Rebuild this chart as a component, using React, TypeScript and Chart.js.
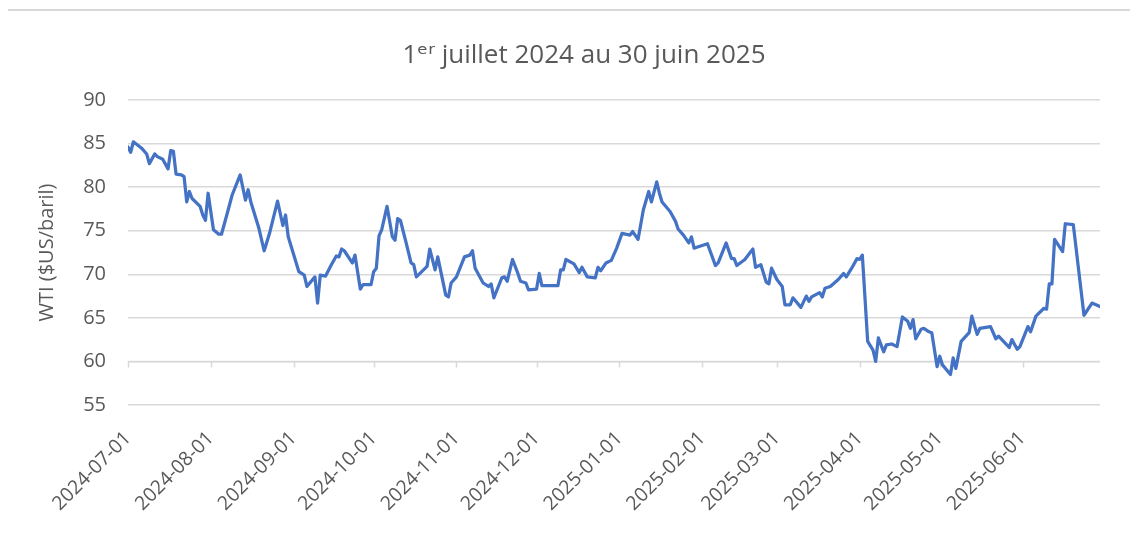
import { useEffect, useRef } from 'react';
import { Chart, registerables } from 'chart.js';

Chart.register(...registerables);

// ---- Data -----------------------------------------------------------
const startDate = '2024-07-01';
const endDate = '2025-06-30';

const dates: string[] = [
  '2024-07-01', '2024-07-02', '2024-07-03', '2024-07-06', '2024-07-08', '2024-07-09', '2024-07-11', '2024-07-12',
  '2024-07-14', '2024-07-16', '2024-07-17', '2024-07-18', '2024-07-19', '2024-07-21', '2024-07-22', '2024-07-23',
  '2024-07-24', '2024-07-25', '2024-07-28', '2024-07-29', '2024-07-30', '2024-07-31', '2024-08-02', '2024-08-04',
  '2024-08-05', '2024-08-07', '2024-08-09', '2024-08-12', '2024-08-14', '2024-08-15', '2024-08-16', '2024-08-19',
  '2024-08-21', '2024-08-23', '2024-08-26', '2024-08-28', '2024-08-29', '2024-08-30', '2024-09-03', '2024-09-05',
  '2024-09-06', '2024-09-09', '2024-09-10', '2024-09-11', '2024-09-13', '2024-09-15', '2024-09-17', '2024-09-18',
  '2024-09-19', '2024-09-20', '2024-09-23', '2024-09-24', '2024-09-26', '2024-09-27', '2024-09-30', '2024-10-01',
  '2024-10-02', '2024-10-03', '2024-10-04', '2024-10-06', '2024-10-08', '2024-10-09', '2024-10-10', '2024-10-11',
  '2024-10-13', '2024-10-15', '2024-10-16', '2024-10-17', '2024-10-21', '2024-10-22', '2024-10-24', '2024-10-25',
  '2024-10-28', '2024-10-29', '2024-10-30', '2024-11-01', '2024-11-04', '2024-11-06', '2024-11-07', '2024-11-08',
  '2024-11-11', '2024-11-13', '2024-11-14', '2024-11-15', '2024-11-18', '2024-11-19', '2024-11-20', '2024-11-22',
  '2024-11-24', '2024-11-25', '2024-11-27', '2024-11-28', '2024-12-01', '2024-12-02', '2024-12-03', '2024-12-09',
  '2024-12-10', '2024-12-11', '2024-12-12', '2024-12-15', '2024-12-17', '2024-12-18', '2024-12-20', '2024-12-23',
  '2024-12-24', '2024-12-25', '2024-12-27', '2024-12-29', '2024-12-31', '2025-01-02', '2025-01-05', '2025-01-06',
  '2025-01-08', '2025-01-10', '2025-01-12', '2025-01-13', '2025-01-15', '2025-01-16', '2025-01-17', '2025-01-20',
  '2025-01-22', '2025-01-23', '2025-01-25', '2025-01-27', '2025-01-28', '2025-01-29', '2025-01-30', '2025-02-03',
  '2025-02-06', '2025-02-07', '2025-02-10', '2025-02-12', '2025-02-13', '2025-02-14', '2025-02-17', '2025-02-20',
  '2025-02-21', '2025-02-23', '2025-02-25', '2025-02-26', '2025-02-27', '2025-03-01', '2025-03-03', '2025-03-04',
  '2025-03-06', '2025-03-07', '2025-03-10', '2025-03-12', '2025-03-13', '2025-03-14', '2025-03-17', '2025-03-18',
  '2025-03-19', '2025-03-21', '2025-03-24', '2025-03-26', '2025-03-27', '2025-03-29', '2025-03-31', '2025-04-01',
  '2025-04-02', '2025-04-04', '2025-04-06', '2025-04-07', '2025-04-08', '2025-04-10', '2025-04-11', '2025-04-13',
  '2025-04-15', '2025-04-17', '2025-04-19', '2025-04-20', '2025-04-21', '2025-04-22', '2025-04-24', '2025-04-25',
  '2025-04-27', '2025-04-28', '2025-04-30', '2025-05-01', '2025-05-02', '2025-05-05', '2025-05-06', '2025-05-07',
  '2025-05-09', '2025-05-12', '2025-05-13', '2025-05-15', '2025-05-16', '2025-05-20', '2025-05-22', '2025-05-23',
  '2025-05-27', '2025-05-28', '2025-05-30', '2025-05-31', '2025-06-03', '2025-06-04', '2025-06-06', '2025-06-09',
  '2025-06-10', '2025-06-11', '2025-06-12', '2025-06-13', '2025-06-16', '2025-06-17', '2025-06-20', '2025-06-22',
  '2025-06-24', '2025-06-27', '2025-06-30',
];

const wti: number[] = [
  84.6, 84.0, 85.2, 84.5, 83.8, 82.7, 83.8, 83.5,
  83.2, 82.1, 84.2, 84.1, 81.5, 81.4, 81.2, 78.3,
  79.5, 78.7, 77.8, 76.8, 76.2, 79.3, 75.1, 74.6,
  74.6, 76.8, 79.1, 81.4, 78.5, 79.7, 78.3, 75.3,
  72.7, 74.7, 78.4, 75.6, 76.8, 74.3, 70.3, 69.9,
  68.6, 69.7, 66.7, 69.9, 69.8, 71.0, 72.1, 72.0,
  72.9, 72.7, 71.3, 72.2, 68.3, 68.8, 68.8, 70.3,
  70.7, 74.4, 75.1, 77.8, 74.3, 73.9, 76.4, 76.2,
  73.8, 71.3, 71.1, 69.7, 70.9, 72.9, 70.5, 72.0,
  67.6, 67.4, 69.0, 69.7, 72.0, 72.2, 72.7, 70.7,
  69.0, 68.6, 68.9, 67.3, 69.6, 69.7, 69.2, 71.7,
  70.1, 69.2, 69.0, 68.2, 68.3, 70.1, 68.7, 68.7,
  70.5, 70.5, 71.7, 71.2, 70.2, 70.8, 69.7, 69.6,
  70.8, 70.4, 71.3, 71.6, 73.0, 74.7, 74.5, 74.9,
  74.0, 77.4, 79.5, 78.3, 80.6, 79.3, 78.3, 77.2,
  76.1, 75.2, 74.5, 73.6, 74.3, 73.0, 73.1, 73.5,
  71.0, 71.3, 73.6, 71.8, 71.8, 71.0, 71.7, 72.9,
  70.8, 71.1, 69.1, 68.9, 70.7, 69.4, 68.6, 66.5,
  66.5, 67.3, 66.2, 67.5, 66.9, 67.4, 67.9, 67.4,
  68.4, 68.6, 69.4, 70.1, 69.7, 70.7, 71.8, 71.7,
  72.2, 62.3, 61.3, 60.0, 62.7, 61.1, 61.9, 62.0,
  61.7, 65.1, 64.6, 63.8, 64.8, 62.6, 63.7, 63.8,
  63.4, 63.3, 59.4, 60.6, 59.6, 58.5, 60.4, 59.2,
  62.3, 63.3, 65.2, 63.1, 63.8, 64.0, 62.6, 62.9,
  61.6, 62.5, 61.4, 61.7, 64.0, 63.4, 65.2, 66.1,
  66.0, 68.9, 68.9, 74.0, 72.6, 75.8, 75.7, 70.5,
  65.3, 66.7, 66.3,
];

const monthTicks: string[] = [
  '2024-07-01', '2024-08-01', '2024-09-01', '2024-10-01', '2024-11-01', '2024-12-01',
  '2025-01-01', '2025-02-01', '2025-03-01', '2025-04-01', '2025-05-01', '2025-06-01',
];

const yMin = 55;
const yMax = 90;
const yStep = 5;
const axisCrossValue = 60;

const chartTitle = '1ᵉʳ juillet 2024 au 30 juin 2025';
const yAxisTitle = 'WTI ($US/baril)';

// ---- Helpers ---------------------------------------------------------
const DAY = 86400000;
const dayOf = (s: string) => Math.round((Date.parse(s) - Date.parse(startDate)) / DAY);
const dateOf = (d: number) => new Date(Date.parse(startDate) + d * DAY).toISOString().slice(0, 10);

const FONT = "'Open Sans', 'DejaVu Sans', sans-serif";
const TEXT = '#595959';
const GRID = '#d9d9d9';

const crossAxisTicks = {
  id: 'crossAxisTicks',
  beforeDatasetsDraw(chart: any) {
    const { ctx, scales } = chart;
    const x = scales.x;
    const y = scales.y;
    const yy = y.getPixelForValue(axisCrossValue);
    ctx.save();
    ctx.strokeStyle = GRID;
    ctx.lineWidth = 1.5;
    ctx.beginPath();
    ctx.moveTo(chart.chartArea.left, yy);
    ctx.lineTo(chart.chartArea.right, yy);
    for (const m of monthTicks) {
      const px = Math.round(x.getPixelForValue(dayOf(m))) + 0.5;
      ctx.moveTo(px, yy);
      ctx.lineTo(px, yy + 6);
    }
    ctx.stroke();
    ctx.restore();
  },
};

export default function App() {
  const ref = useRef<HTMLCanvasElement | null>(null);

  useEffect(() => {
    if (!ref.current) return;
    const points = dates.map((d, i) => ({ x: dayOf(d), y: wti[i] }));
    const chart = new Chart(ref.current, {
      type: 'line',
      data: {
        datasets: [
          {
            label: 'WTI',
            data: points,
            borderColor: '#4472C4',
            borderWidth: 3.25,
            pointRadius: 0,
            tension: 0,
            fill: false,
            borderJoinStyle: 'round',
            borderCapStyle: 'round',
          },
        ],
      },
      options: {
        animation: false,
        responsive: true,
        maintainAspectRatio: false,
        layout: { padding: { left: 60, right: 32, top: 0, bottom: 0 } },
        plugins: {
          legend: { display: false },
          tooltip: { enabled: false },
          title: {
            display: true,
            text: chartTitle,
            color: TEXT,
            font: { family: FONT, size: 26, weight: 'normal' },
            padding: { top: 29.4, bottom: 28.4 },
          },
        },
        scales: {
          x: {
            type: 'linear',
            min: 0,
            max: dayOf(endDate),
            grid: { display: false },
            border: { display: false },
            afterBuildTicks: (axis: any) => {
              axis.ticks = monthTicks.map((m) => ({ value: dayOf(m) }));
            },
            afterFit: (axis: any) => {
              axis.height = 126;
            },
            ticks: {
              color: TEXT,
              font: { family: FONT, size: 19.5 },
              minRotation: 45,
              maxRotation: 45,
              autoSkip: false,
              padding: 14,
              callback: (v: any) => dateOf(Number(v)),
            },
          },
          y: {
            min: yMin,
            max: yMax,
            afterFit: (axis: any) => {
              axis.width = 60;
            },
            grid: { color: GRID, lineWidth: 1.5, drawTicks: false },
            border: { display: false },
            ticks: {
              stepSize: yStep,
              color: TEXT,
              font: { family: FONT, size: 20 },
              padding: 22,
            },
            title: {
              display: true,
              text: yAxisTitle,
              color: TEXT,
              font: { family: FONT, size: 20 },
              padding: { top: -33, bottom: 0 },
            },
          },
        },
      },
      plugins: [crossAxisTicks],
    });
    return () => chart.destroy();
  }, []);

  return (
    <div
      style={{
        position: 'relative',
        left: -2,
        top: 1,
        width: 1126,
        height: 522,
        borderTop: `2px solid ${GRID}`,
        borderLeft: `2px solid ${GRID}`,
      }}
    >
      <div style={{ position: 'relative', width: 1124, height: 520 }}>
        <canvas ref={ref} />
      </div>
    </div>
  );
}
